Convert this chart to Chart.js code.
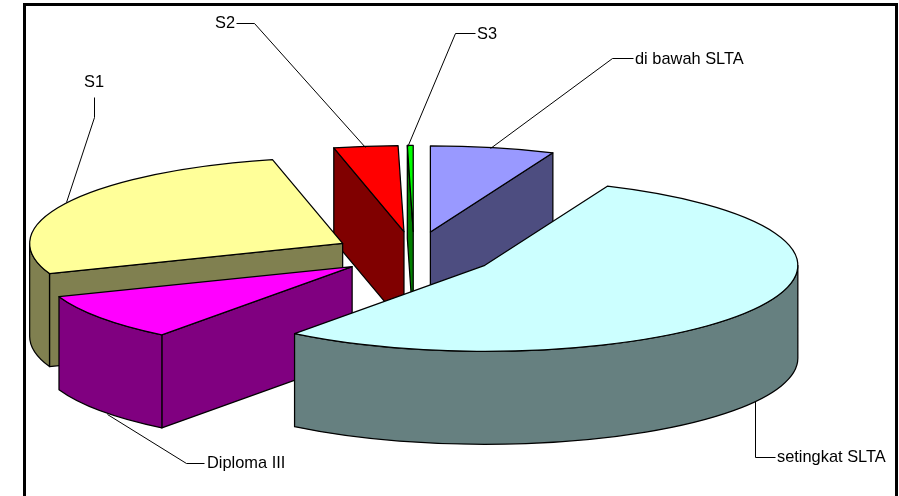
<!DOCTYPE html>
<html>
<head>
<meta charset="utf-8">
<style>html,body{margin:0;padding:0;background:#fff}canvas{display:block}</style>
<script src="https://cdn.jsdelivr.net/npm/chart.js@4"></script>
</head>
<body>
<canvas id="c" width="899" height="496"></canvas>
<script>
const categories = ['di bawah SLTA', 'setingkat SLTA', 'Diploma III', 'S1', 'S2', 'S3'];
const values = [6.4, 54.0, 8.9, 27.1, 3.3, 0.3];
const topColors = ['#9999FF', '#CCFFFF', '#FF00FF', '#FFFF99', '#FF0000', '#00FF00'];
const sideColors = ['#4D4D80', '#668080', '#800080', '#808050', '#800000', '#008000'];
const paintOrder = [5, 4, 0, 3, 2, 1];
const explode = [82, 82, 77, 81, 82, 82];

const TILT = 86 / 313, DEPTH = 93;
const LINE = '#000';
const labelLayout = [
  {tx: 635, ty: 59, align: 'left', path: [[633,58],[612,58],[490,148]]},
  {tx: 777, ty: 457, align: 'left', path: [[775,457],[755,457],[755,401]]},
  {tx: 207, ty: 463, align: 'left', path: [[204,463],[186,463],[107,414]]},
  {tx: 94, ty: 82, align: 'center', path: [[94,97],[94,117],[66,202]]},
  {tx: 215, ty: 23, align: 'left', path: [[236,23],[254,23],[365,147]]},
  {tx: 477, ty: 34, align: 'left', path: [[475,33],[455,33],[407,147]]}
];

const pie3d = {
  id: 'pie3d',
  beforeDraw(chart) {
    const ctx = chart.ctx;
    ctx.save();
    ctx.fillStyle = '#fff';
    ctx.fillRect(0, 0, chart.width, chart.height);
    ctx.strokeStyle = '#000';
    ctx.lineWidth = 3;
    ctx.beginPath();
    ctx.moveTo(24.5, chart.height);
    ctx.lineTo(24.5, 4.5);
    ctx.lineTo(896.5, 4.5);
    ctx.lineTo(896.5, chart.height);
    ctx.stroke();
    ctx.restore();
  },
  beforeDatasetDraw(chart, args) {
    const ctx = chart.ctx;
    const arcs = args.meta.data;
    paintOrder.forEach(i => {
      const arc = arcs[i];
      const {x, y, startAngle: a0, endAngle: a1, outerRadius: r} = arc;
      const mid = (a0 + a1) / 2;
      const ox = x + Math.cos(mid) * explode[i];
      const oy = y + Math.sin(mid) * explode[i] * TILT;
      const ry = r * TILT;
      const px = a => ox + Math.cos(a) * r;
      const py = a => oy + Math.sin(a) * ry;

      ctx.save();
      ctx.lineWidth = 1.25;
      ctx.strokeStyle = LINE;
      ctx.lineJoin = 'round';
      ctx.fillStyle = sideColors[i];
      const face = a => {
        ctx.beginPath();
        ctx.moveTo(ox, oy);
        ctx.lineTo(px(a), py(a));
        ctx.lineTo(px(a), py(a) + DEPTH);
        ctx.lineTo(ox, oy + DEPTH);
        ctx.closePath();
        ctx.fill();
        ctx.stroke();
      };
      if (-Math.cos(a0) > 0) face(a0);
      if (Math.cos(a1) > 0) face(a1);
      // curved wall: only the part of the rim turned towards the viewer
      [[0, Math.PI], [2 * Math.PI, 3 * Math.PI], [-2 * Math.PI, -Math.PI]].forEach(([lo, hi]) => {
        const s = Math.max(a0, lo), e = Math.min(a1, hi);
        if (e <= s) return;
        ctx.beginPath();
        ctx.ellipse(ox, oy, r, ry, 0, s, e);
        ctx.lineTo(px(e), py(e) + DEPTH);
        ctx.ellipse(ox, oy + DEPTH, r, ry, 0, e, s, true);
        ctx.closePath();
        ctx.fill();
        ctx.stroke();
      });

      // top face drawn by the library's own arc element
      ctx.save();
      ctx.translate(ox, oy);
      ctx.scale(1, TILT);
      ctx.translate(-x, -y);
      arc.draw(ctx);
      ctx.restore();

      ctx.beginPath();
      ctx.moveTo(ox, oy);
      ctx.ellipse(ox, oy, r, ry, 0, a0, a1);
      ctx.closePath();
      ctx.stroke();
      ctx.restore();
    });
    return false;
  },
  afterDraw(chart) {
    const ctx = chart.ctx;
    ctx.save();
    ctx.font = '16.4px "Liberation Sans", Arial, sans-serif';
    ctx.fillStyle = '#000';
    ctx.strokeStyle = '#000';
    ctx.lineWidth = 1;
    ctx.textBaseline = 'middle';
    categories.forEach((name, i) => {
      const l = labelLayout[i];
      ctx.textAlign = l.align;
      ctx.fillText(name, l.tx, l.ty);
      ctx.beginPath();
      l.path.forEach(([px, py], k) => k ? ctx.lineTo(px + .5, py + .5) : ctx.moveTo(px + .5, py + .5));
      ctx.stroke();
    });
    ctx.restore();
  }
};

new Chart(document.getElementById('c'), {
  type: 'pie',
  data: {
    labels: categories,
    datasets: [{
      data: values,
      backgroundColor: topColors,
      borderWidth: 0,
      clip: false
    }]
  },
  options: {
    responsive: false,
    devicePixelRatio: 1,
    animation: false,
    radius: 313,
    layout: {padding: {left: 0, right: 71, top: 12, bottom: 0}},
    plugins: {legend: {display: false}, tooltip: {enabled: false}}
  },
  plugins: [pie3d]
});
</script>
</body>
</html>
